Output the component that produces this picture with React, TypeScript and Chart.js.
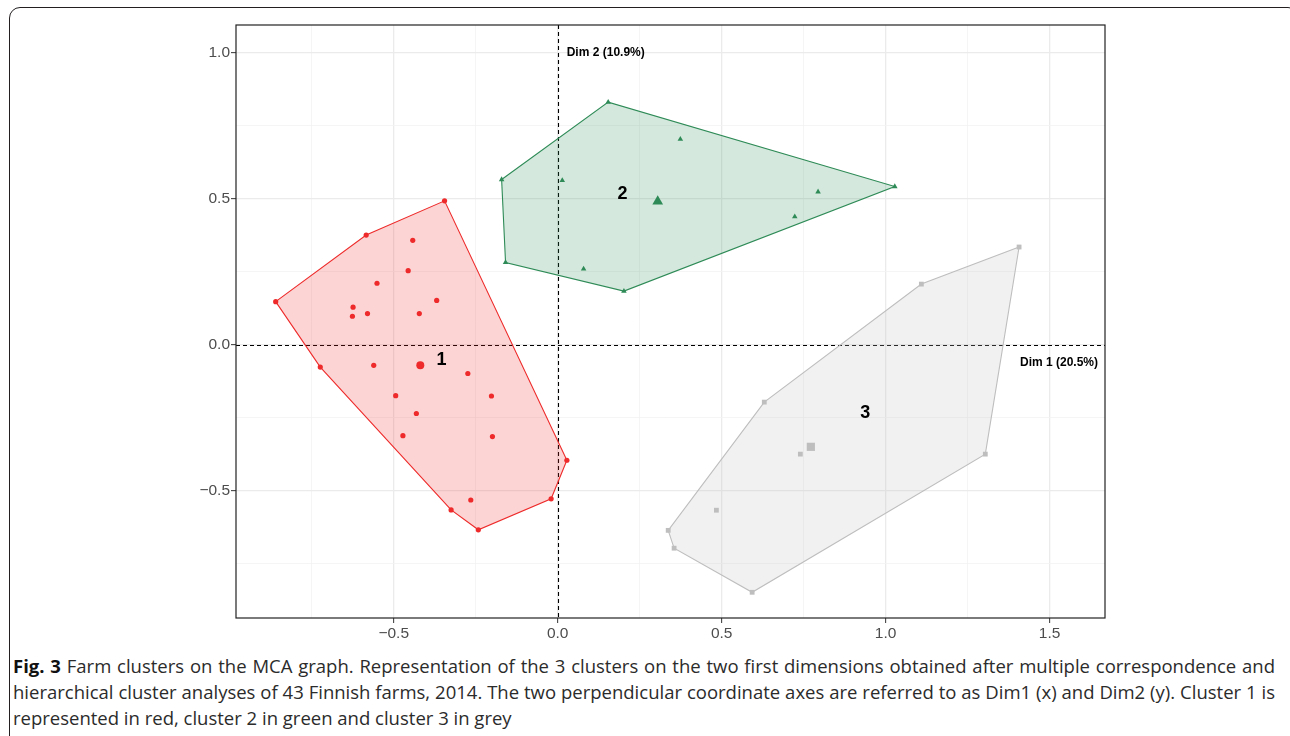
import React, { useEffect, useRef } from 'react';
import { Chart, registerables } from 'chart.js';

Chart.register(...registerables);

// Axis ranges and ticks
const xMin = -0.981;
const xMax = 1.669;
const yMin = -0.935;
const yMax = 1.095;
const xTickValues = [-0.75, -0.5, -0.25, 0, 0.25, 0.5, 0.75, 1, 1.25, 1.5];
const yTickValues = [-0.75, -0.5, -0.25, 0, 0.25, 0.5, 0.75, 1];

// Cluster 1 (red) — individual farms
const cluster1X = [-0.860, -0.584, -0.345, 0.028, -0.020, -0.242, -0.325, -0.724, -0.442, -0.456, -0.551, -0.369, -0.624, -0.626, -0.580, -0.422, -0.561, -0.274, -0.494, -0.202, -0.431, -0.472, -0.199, -0.265];
const cluster1Y = [0.148, 0.376, 0.493, -0.395, -0.527, -0.633, -0.565, -0.076, 0.358, 0.254, 0.211, 0.152, 0.129, 0.098, 0.107, 0.107, -0.070, -0.098, -0.174, -0.175, -0.235, -0.311, -0.314, -0.531];
const cluster1Hull = [0, 1, 2, 3, 4, 5, 6, 7];
const cluster1Centre = [-0.419, -0.070];

// Cluster 2 (green)
const cluster2X = [-0.171, 0.154, 1.028, 0.202, -0.159, 0.374, 0.014, 0.794, 0.723, 0.079];
const cluster2Y = [0.566, 0.831, 0.542, 0.184, 0.282, 0.704, 0.563, 0.524, 0.439, 0.260];
const cluster2Hull = [0, 1, 2, 3, 4];
const cluster2Centre = [0.305, 0.491];

// Cluster 3 (grey)
const cluster3X = [1.407, 1.109, 0.630, 0.337, 0.355, 0.593, 1.304, 0.740, 0.484];
const cluster3Y = [0.335, 0.208, -0.196, -0.635, -0.696, -0.847, -0.374, -0.374, -0.566];
const cluster3Hull = [0, 1, 2, 3, 4, 5, 6];
const cluster3Centre = [0.772, -0.349];

// Cluster number labels
const clusterNames = ['1', '2', '3'];
const clusterLabelX = [-0.354, 0.198, 0.938];
const clusterLabelY = [-0.051, 0.517, -0.232];

const dim1Label = 'Dim 1 (20.5%)';
const dim2Label = 'Dim 2 (10.9%)';

const RED = '#EE2A2A';
const GREEN = '#2E8B57';
const GREY = '#BEBEBE';

const isMajor = (v: number) => Math.abs(v * 2 - Math.round(v * 2)) < 1e-6;
const fmt = (v: number) => (isMajor(v) ? v.toFixed(1).replace('-', '\u2212') : '');

const toPts = (xs: number[], ys: number[]) => xs.map((x, i) => ({ x, y: ys[i] }));
const toHull = (xs: number[], ys: number[], hull: number[]) => {
  const p = hull.map((i) => ({ x: xs[i], y: ys[i] }));
  p.push(p[0]);
  return p;
};

function clusterDatasets(xs: number[], ys: number[], hull: number[], centre: number[], color: string, fillColor: string, style: string, r: number, rc: number) {
  return [
    {
      type: 'line',
      data: toHull(xs, ys, hull),
      borderColor: color,
      borderWidth: 1.1,
      backgroundColor: fillColor,
      fill: 'shape',
      pointRadius: 0,
      tension: 0,
      order: 5,
    },
    {
      type: 'scatter',
      data: toPts(xs, ys),
      pointStyle: style,
      pointRadius: r,
      backgroundColor: color,
      borderWidth: 0,
      order: 1,
    },
    {
      type: 'scatter',
      data: [{ x: centre[0], y: centre[1] }],
      pointStyle: style,
      pointRadius: rc,
      backgroundColor: color,
      borderWidth: 0,
      order: 1,
    },
  ];
}

const overlayPlugin = {
  id: 'overlay',
  beforeDatasetsDraw(chart: any) {
    const { ctx, chartArea: a, scales } = chart;
    const x0 = Math.round(scales.x.getPixelForValue(0)) + 0.5;
    const y0 = Math.round(scales.y.getPixelForValue(0)) + 0.5;
    ctx.save();
    ctx.beginPath();
    ctx.rect(a.left, a.top, a.right - a.left, a.bottom - a.top);
    ctx.clip();
    ctx.strokeStyle = '#000';
    ctx.lineWidth = 1.1;
    ctx.setLineDash([4, 3]);
    ctx.beginPath();
    ctx.moveTo(x0, a.top);
    ctx.lineTo(x0, a.bottom);
    ctx.moveTo(a.left, y0);
    ctx.lineTo(a.right, y0);
    ctx.stroke();
    ctx.restore();
  },
  afterDatasetsDraw(chart: any) {
    const { ctx, chartArea: a, scales } = chart;
    ctx.save();
    ctx.fillStyle = '#000';
    ctx.font = 'bold 18px "Liberation Sans", Arial, sans-serif';
    ctx.textAlign = 'center';
    ctx.textBaseline = 'middle';
    clusterNames.forEach((n, i) => {
      ctx.fillText(n, scales.x.getPixelForValue(clusterLabelX[i]), scales.y.getPixelForValue(clusterLabelY[i]));
    });
    ctx.font = 'bold 12px "Liberation Sans", Arial, sans-serif';
    ctx.textAlign = 'left';
    ctx.fillText(dim2Label, scales.x.getPixelForValue(0) + 9, scales.y.getPixelForValue(1.0));
    ctx.textAlign = 'right';
    ctx.fillText(dim1Label, a.right - 7, scales.y.getPixelForValue(0) + 18);
    // panel border
    ctx.strokeStyle = '#222';
    ctx.lineWidth = 1.2;
    ctx.setLineDash([]);
    ctx.strokeRect(a.left, a.top, a.right - a.left, a.bottom - a.top);
    ctx.restore();
  },
};

function axis(min: number, max: number, values: number[], isX: boolean) {
  return {
    type: 'linear',
    min,
    max,
    afterBuildTicks: (s: any) => {
      s.ticks = values.map((v) => ({ value: v }));
    },
    afterFit: (s: any) => {
      if (isX) s.height = 32;
      else s.width = 236;
    },
    border: { display: false },
    grid: {
      color: (c: any) => (c.tick && isMajor(c.tick.value) ? '#EBEBEB' : '#F3F3F3'),
      lineWidth: (c: any) => (c.tick && isMajor(c.tick.value) ? 1.3 : 0.8),
      tickLength: 5,
      tickColor: (c: any) => (c.tick && isMajor(c.tick.value) ? '#333' : 'rgba(0,0,0,0)'),
      tickWidth: 1,
      drawTicks: true,
    },
    ticks: {
      autoSkip: false,
      maxRotation: 0,
      color: '#4D4D4D',
      padding: 1,
      font: { family: '"Liberation Sans", Arial, sans-serif', size: 15.5 },
      callback: (v: any) => fmt(Number(v)),
    },
  };
}

const lineStyle: React.CSSProperties = {
  width: 1262,
  whiteSpace: 'nowrap',
  textAlign: 'justify',
  textAlignLast: 'justify',
};

export default function App() {
  const ref = useRef<HTMLCanvasElement>(null);
  useEffect(() => {
    const datasets: any[] = [
      ...clusterDatasets(cluster1X, cluster1Y, cluster1Hull, cluster1Centre, RED, 'rgba(238,42,42,0.2)', 'circle', 2.6, 4),
      ...clusterDatasets(cluster2X, cluster2Y, cluster2Hull, cluster2Centre, GREEN, 'rgba(46,139,87,0.2)', 'triangle', 3.2, 6.2),
      ...clusterDatasets(cluster3X, cluster3Y, cluster3Hull, cluster3Centre, GREY, 'rgba(190,190,190,0.22)', 'rect', 3.4, 5.8),
    ];
    const chart = new Chart(ref.current as HTMLCanvasElement, {
      type: 'scatter',
      data: { datasets },
      options: {
        animation: false,
        responsive: false,
        maintainAspectRatio: false,
        events: [],
        layout: { padding: { left: 0, top: 25, right: 185, bottom: 0 } },
        plugins: { legend: { display: false }, tooltip: { enabled: false } },
        scales: {
          x: axis(xMin, xMax, xTickValues, true),
          y: axis(yMin, yMax, yTickValues, false),
        },
      } as any,
      plugins: [overlayPlugin],
    } as any);
    return () => chart.destroy();
  }, []);

  return (
    <div style={{ position: 'fixed', left: 0, top: 0, width: 1290, height: 736, background: '#fff', overflow: 'hidden' }}>
      <div
        style={{
          position: 'absolute',
          left: 9,
          top: 7,
          width: 1290,
          height: 800,
          border: '1.5px solid #231F20',
          borderRadius: 11,
          boxSizing: 'border-box',
        }}
      />
      <canvas ref={ref} width={1290} height={650} style={{ position: 'absolute', left: 0, top: 0, width: 1290, height: 650 }} />
      <div
        style={{
          position: 'absolute',
          left: 13,
          top: 653,
          fontFamily: '"Open Sans", sans-serif',
          fontSize: 18.5,
          lineHeight: '26px',
          color: '#2B2B2B',
        }}
      >
        <div style={lineStyle}>
          <b style={{ color: '#111' }}>Fig. 3</b> Farm clusters on the MCA graph. Representation of the 3 clusters on the two first dimensions obtained after multiple correspondence and
        </div>
        <div style={lineStyle}>
          hierarchical cluster analyses of 43 Finnish farms, 2014. The two perpendicular coordinate axes are referred to as Dim1 (x) and Dim2 (y). Cluster 1 is
        </div>
        <div style={{ whiteSpace: 'nowrap' }}>represented in red, cluster 2 in green and cluster 3 in grey</div>
      </div>
    </div>
  );
}
